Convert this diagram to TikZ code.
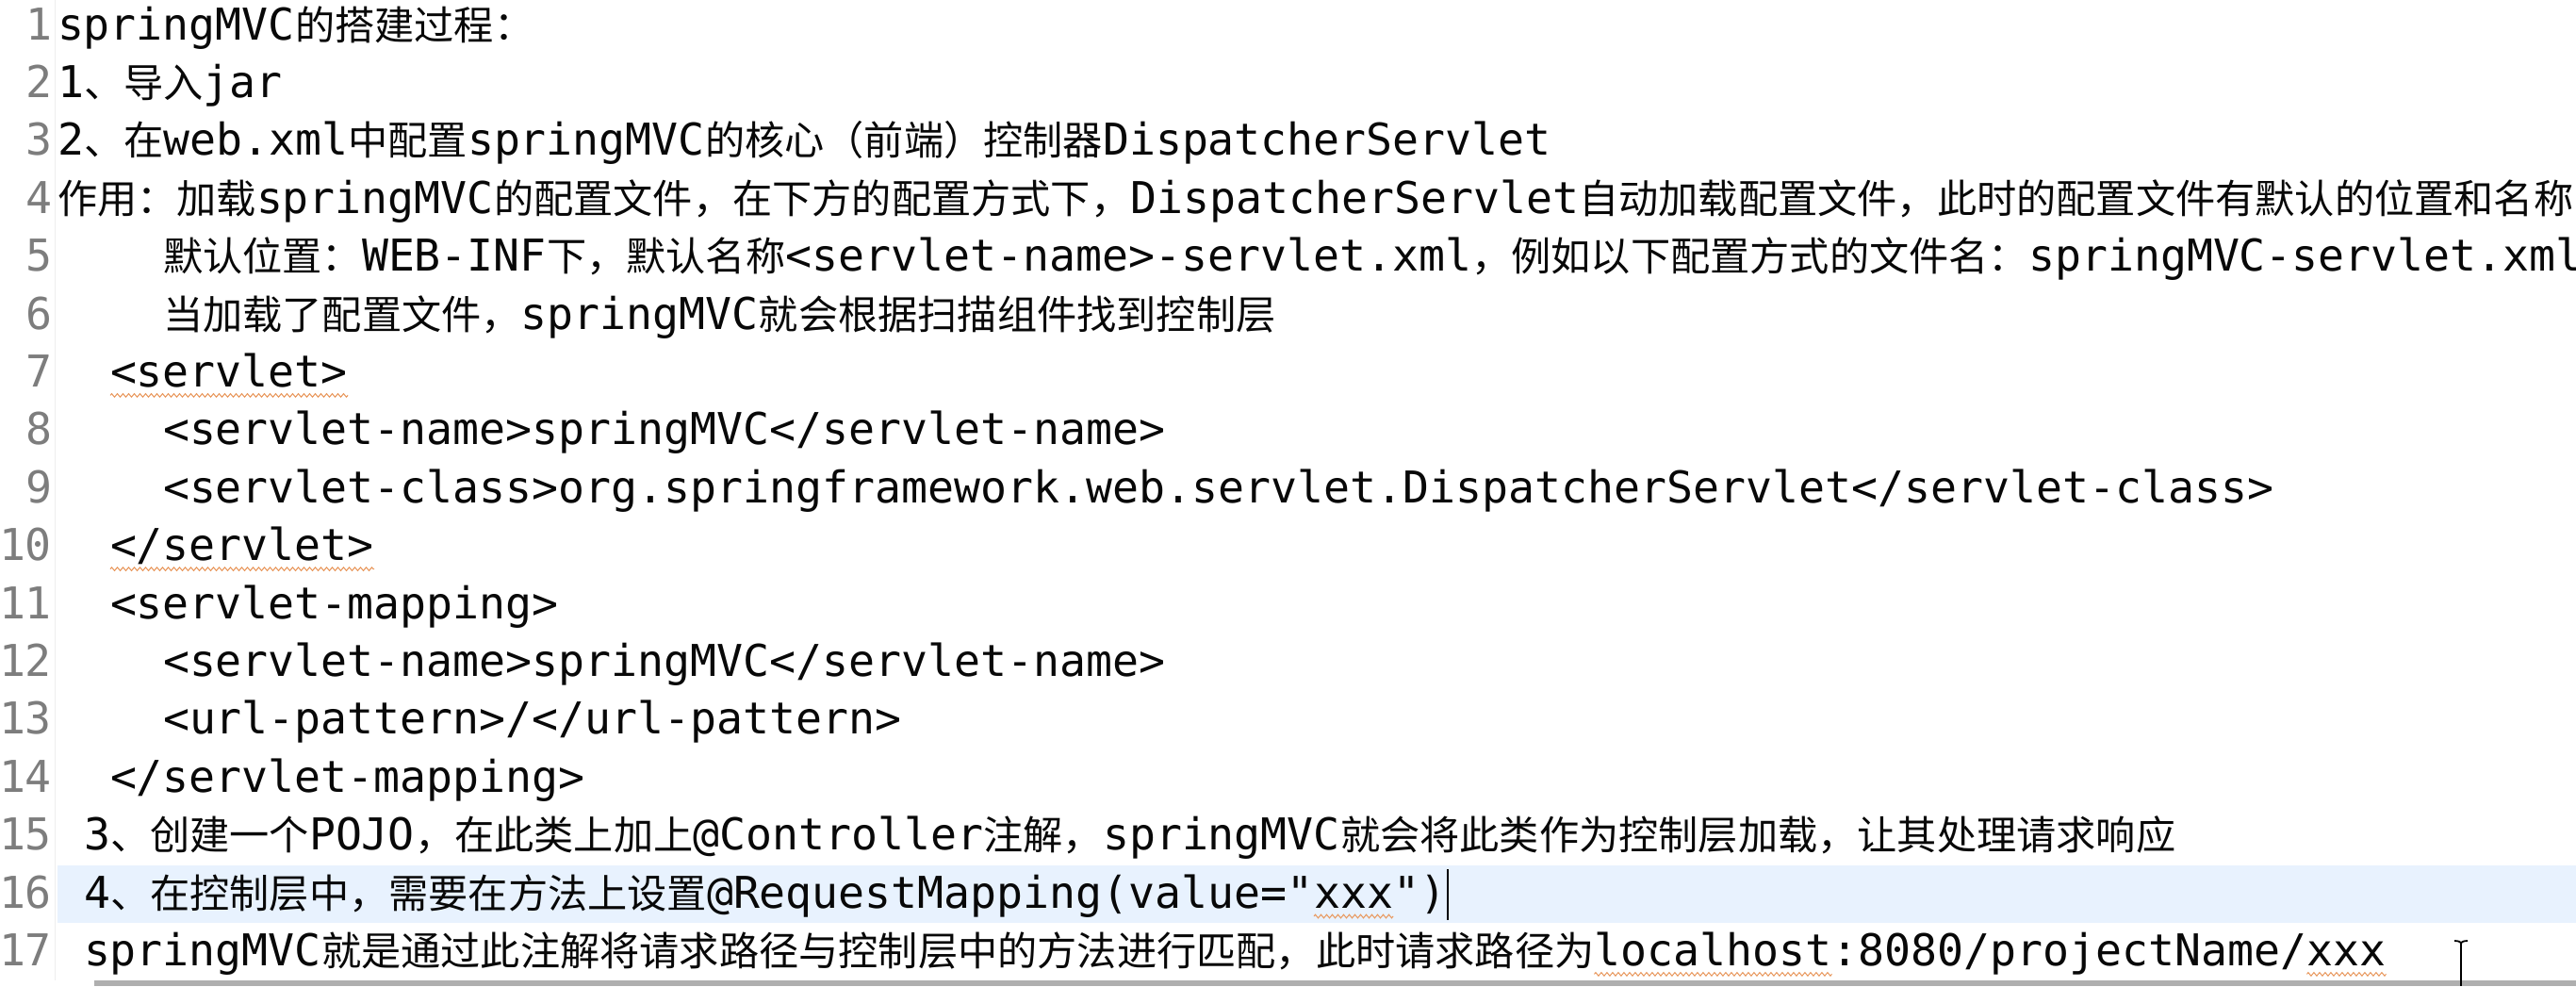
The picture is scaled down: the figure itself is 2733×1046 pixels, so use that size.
\documentclass[tikz,border=0pt]{standalone}
\usepackage{fontspec}
\setmonofont{DejaVu Sans Mono}
\newfontfamily\cnfont{Noto Sans CJK SC}
\usetikzlibrary{decorations.pathmorphing}
\definecolor{codecol}{RGB}{8,8,8}
\definecolor{numcol}{RGB}{125,125,125}
\definecolor{curline}{RGB}{232,242,254}
\definecolor{squig}{RGB}{232,150,90}
\definecolor{gutcol}{RGB}{238,238,238}
\definecolor{barcol}{RGB}{175,175,175}
\newcommand\codefont{\ttfamily\fontsize{23.254pt}{30pt}\selectfont}
\newcommand\zhs[1]{{\cnfont\fontsize{21.1pt}{30pt}\selectfont#1}}
\begin{document}
\begin{tikzpicture}[x=0.5pt,y=-0.5pt,
  txt/.style={anchor=base west,inner sep=0pt,outer sep=0pt,font=\codefont,text=codecol},
  lnum/.style={anchor=base east,inner sep=0pt,outer sep=0pt,font=\codefont,text=numcol},
  wavy/.style={draw=squig,line width=0.5pt,decorate,decoration={zigzag,amplitude=0.9pt,segment length=3pt}},
  caret/.style={draw=black,line width=1.4pt},
  ibeam/.style={draw=black,line width=0.9pt}]
\useasboundingbox (0,0) rectangle (2733,1046);
\fill[white] (0,0) rectangle (2733,1046);
% current line highlight
\fill[curline] (61,918) rectangle (2733,979);
% gutter separator
\draw[gutcol,line width=0.5pt] (58,0) -- (58,1040);
% line numbers
\node[lnum] (n1)  at (55,42)     {1};
\node[lnum] (n2)  at (55,103.4)  {2};
\node[lnum] (n3)  at (55,164.8)  {3};
\node[lnum] (n4)  at (55,226.2)  {4};
\node[lnum] (n5)  at (55,287.6)  {5};
\node[lnum] (n6)  at (55,349)    {6};
\node[lnum] (n7)  at (55,410.4)  {7};
\node[lnum] (n8)  at (55,471.8)  {8};
\node[lnum] (n9)  at (55,533.2)  {9};
\node[lnum] (n10) at (55,594.6)  {10};
\node[lnum] (n11) at (55,656)    {11};
\node[lnum] (n12) at (55,717.4)  {12};
\node[lnum] (n13) at (55,778.8)  {13};
\node[lnum] (n14) at (55,840.2)  {14};
\node[lnum] (n15) at (55,901.6)  {15};
\node[lnum] (n16) at (55,963)    {16};
\node[lnum] (n17) at (55,1024.4) {17};
% text lines
\node[txt] (l1) at (61,42) {springMVC\zhs{的搭建过程：}};
\node[txt] (l2) at (61,103.4) {1\zhs{、导入}jar};
\node[txt] (l3) at (61,164.8) {2\zhs{、在}web.xml\zhs{中配置}springMVC\zhs{的核心（前端）控制器}DispatcherServlet};
\node[txt] (l4) at (61,226.2) {\zhs{作用：加载}springMVC\zhs{的配置文件，在下方的配置方式下，}DispatcherServlet\zhs{自动加载配置文件，此时的配置文件有默认的位置和名称}};
\node[txt] (l5) at (173,287.6) {\zhs{默认位置：}WEB-INF\zhs{下，默认名称}<servlet-name>-servlet.xml\zhs{，例如以下配置方式的文件名：}springMVC-servlet.xml};
\node[txt] (l6) at (173,349) {\zhs{当加载了配置文件，}springMVC\zhs{就会根据扫描组件找到控制层}};
\node[txt] (l7) at (117,410.4) {<servlet>};
\node[txt] (l8) at (173,471.8) {<servlet-name>springMVC</servlet-name>};
\node[txt] (l9) at (173,533.2) {<servlet-class>org.springframework.web.servlet.DispatcherServlet</servlet-class>};
\node[txt] (l10) at (117,594.6) {</servlet>};
\node[txt] (l11) at (117,656) {<servlet-mapping>};
\node[txt] (l12) at (173,717.4) {<servlet-name>springMVC</servlet-name>};
\node[txt] (l13) at (173,778.8) {<url-pattern>/</url-pattern>};
\node[txt] (l14) at (117,840.2) {</servlet-mapping>};
\node[txt] (l15) at (89,901.6) {3\zhs{、创建一个}POJO\zhs{，在此类上加上}@Controller\zhs{注解，}springMVC\zhs{就会将此类作为控制层加载，让其处理请求响应}};
\node[txt] (l16a) at (89,963) {4\zhs{、在控制层中，需要在方法上设置}@RequestMapping(value="};
\node[txt] (l16b) at (l16a.base east) {xxx};
\node[txt] (l16c) at (l16b.base east) {")};
\node[txt] (l17a) at (89,1024.4) {springMVC\zhs{就是通过此注解将请求路径与控制层中的方法进行匹配，此时请求路径为}};
\node[txt] (l17b) at (l17a.base east) {localhost};
\node[txt] (l17c) at (l17b.base east) {:8080/projectName/};
\node[txt] (l17d) at (l17c.base east) {xxx};
% spell-check squiggles
\draw[wavy] ([yshift=-4.5pt]l7.base west) -- ([yshift=-4.5pt]l7.base east);
\draw[wavy] ([yshift=-4.5pt]l10.base west) -- ([yshift=-4.5pt]l10.base east);
\draw[wavy] ([yshift=-4.5pt]l16b.base west) -- ([yshift=-4.5pt]l16b.base east);
\draw[wavy] ([yshift=-4.5pt]l17b.base west) -- ([yshift=-4.5pt]l17b.base east);
\draw[wavy] ([yshift=-4.5pt]l17d.base west) -- ([yshift=-4.5pt]l17d.base east);
% text caret
\draw[caret] ([xshift=1pt,yshift=20.5pt]l16c.base east) -- ([xshift=1pt,yshift=-6.5pt]l16c.base east);
% bottom bar
\fill[barcol] (100,1040) rectangle (2733,1046);
% mouse I-beam
\draw[ibeam] (2611,1001) -- (2611,1046);
\draw[ibeam] (2604,998) .. controls (2608,998) and (2611,999) .. (2611,1001) .. controls (2611,999) and (2614,998) .. (2618,998);
\end{tikzpicture}
\end{document}
